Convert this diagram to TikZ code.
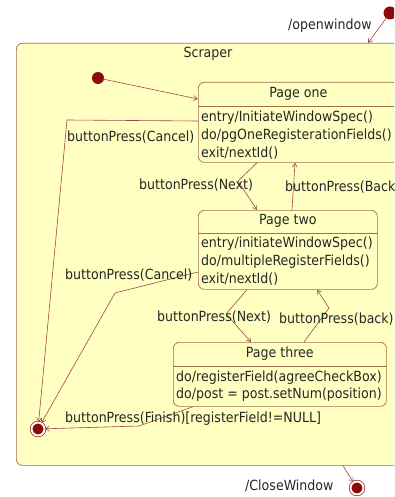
\documentclass[tikz,border=0pt]{standalone}
\usepackage{fontspec}
\setmainfont{DejaVu Sans Condensed}
\usepackage{tikz}
\usetikzlibrary{positioning, arrows.meta}
\definecolor{stFill}{HTML}{FFFFC2}
\definecolor{stLine}{HTML}{A07050}
\definecolor{dotRed}{HTML}{8C0A0A}
\definecolor{trRed}{HTML}{A04848}
\definecolor{txGray}{HTML}{262626}

\begin{document}
\begin{tikzpicture}[x=1pt, y=-1pt,
    every node/.style={font=\fontsize{14}{16}\selectfont, text=txGray},
    state/.style={draw=stLine, fill=stFill, line width=0.7pt, rounded corners=6pt, anchor=north west, inner sep=0pt},
    sepline/.style={draw=stLine, line width=0.7pt},
    ttl/.style={inner sep=0pt},
    body/.style={anchor=west, inner sep=0pt},
    lbl/.style={anchor=west, inner sep=0pt},
    inidot/.style={circle, fill=dotRed, minimum size=13pt, inner sep=0pt},
    findot/.style={circle, fill=dotRed, draw=dotRed, double=white, double distance=2pt, line width=0.6pt, minimum size=13pt, inner sep=0pt},
    tr/.style={draw=trRed, line width=0.6pt, -{Straight Barb[length=4pt, width=5pt]}}]
  \useasboundingbox (0,0) rectangle (394,497);
  \clip (0,0) rectangle (394,497);
  \fill[white] (0,0) rectangle (394,497);

  % composite state
  \node[state, minimum width=400pt, minimum height=422pt] (scraper) at (16,43) {};
  \node[ttl] (scrT) at (208,54) {Scraper};

  % initial and final states
  \node[inidot] (ini1) at (390,13) {};
  \node[inidot, minimum size=12pt] (ini2) at (98,78) {};
  \node[findot] (fin1) at (38,429) {};
  \node[findot] (fin2) at (357,488) {};

  % bend points
  \coordinate (c1) at (67,120);
  \coordinate (c2) at (115,293);
  \coordinate (n1) at (238,181);
  \coordinate (n2) at (226,314);
  \coordinate (b2) at (329,308);
  \coordinate (f1) at (139,426);

  % Page one
  \node[state, minimum width=200pt, minimum height=80pt] (p1) at (198,82) {};
  \draw[sepline] ([yshift=-24pt]p1.north west) -- ([yshift=-24pt]p1.north east);
  \node[ttl] (p1T) at ([yshift=-12pt]p1.north) {Page one};
  \node[body] (p1a) at ([xshift=3pt, yshift=-36pt]p1.north west) {entry/InitiateWindowSpec()};
  \node[body] (p1b) at ([xshift=3pt, yshift=-54pt]p1.north west) {do/pgOneRegisterationFields()};
  \node[body] (p1c) at ([xshift=3pt, yshift=-71pt]p1.north west) {exit/nextId()};

  % Page two
  \node[state, minimum width=179pt, minimum height=79pt] (p2) at (198,210) {};
  \draw[sepline] ([yshift=-23pt]p2.north west) -- ([yshift=-23pt]p2.north east);
  \node[ttl] (p2T) at ([yshift=-11pt]p2.north) {Page two};
  \node[body] (p2a) at ([xshift=3pt, yshift=-34pt]p2.north west) {entry/initiateWindowSpec()};
  \node[body] (p2b) at ([xshift=3pt, yshift=-52pt]p2.north west) {do/multipleRegisterFields()};
  \node[body] (p2c) at ([xshift=3pt, yshift=-69pt]p2.north west) {exit/nextId()};

  % Page three
  \node[state, minimum width=213pt, minimum height=64pt] (p3) at (173,342) {};
  \draw[sepline] ([yshift=-24pt]p3.north west) -- ([yshift=-24pt]p3.north east);
  \node[ttl] (p3T) at ([yshift=-12pt]p3.north) {Page three};
  \node[body] (p3a) at ([xshift=3pt, yshift=-36pt]p3.north west) {do/registerField(agreeCheckBox)};
  \node[body] (p3b) at ([xshift=3pt, yshift=-53pt]p3.north west) {do/post = post.setNum(position)};

  % transitions
  \draw[tr] (ini1) -- ([xshift=352pt]scraper.north west);
  \draw[tr] (ini2) -- ([yshift=-17pt]p1.north west);
  \draw[tr] ([yshift=-39pt]p1.north west) -- (c1) -- (fin1);
  \draw[tr] ([xshift=59pt]p1.south west) -- (n1) -- ([xshift=59pt]p2.north west);
  \draw[tr] ([xshift=94pt]p2.north west) -- ([xshift=97pt]p1.south west);
  \draw[tr] ([yshift=-62pt]p2.north west) -- (c2) -- (fin1);
  \draw[tr] ([xshift=49pt]p2.south west) -- (n2) -- ([xshift=78pt]p3.north west);
  \draw[tr] ([xshift=131pt]p3.north west) -- (b2) -- ([xshift=119pt]p2.south west);
  \draw[tr] ([xshift=20pt]p3.south west) -- (f1) -- (fin1);
  \draw[tr] ([xshift=327pt]scraper.south west) -- (fin2);

  % labels
  \node[lbl] (lOpen) at (288,26) {/openwindow};
  \node[lbl] (lCan1) at (67,137) {buttonPress(Cancel)};
  \node[lbl] (lNext1) at (139,185) {buttonPress(Next)};
  \node[lbl] (lBack1) at (285,187) {buttonPress(Back)};
  \node[lbl] (lCan2) at (65,275) {buttonPress(Cancel)};
  \node[lbl] (lNext2) at (157,317) {buttonPress(Next)};
  \node[lbl] (lBack2) at (279,319) {buttonPress(back)};
  \node[lbl] (lFin) at (65,419) {buttonPress(Finish)[registerField!=NULL]};
  \node[lbl] (lClose) at (245,486) {/CloseWindow};
\end{tikzpicture}
\end{document}
